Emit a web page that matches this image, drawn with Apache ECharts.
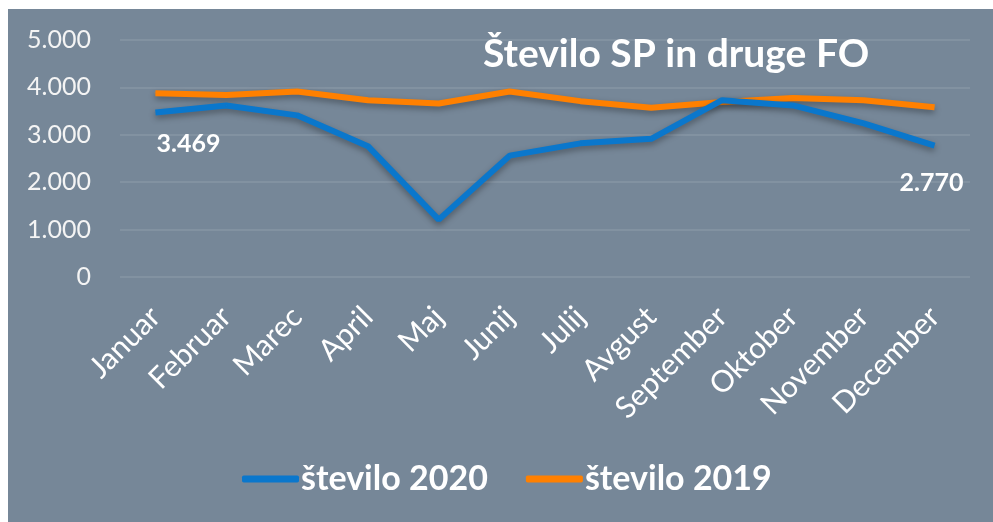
<!DOCTYPE html>
<html>
<head>
<meta charset="utf-8">
<script src="https://cdn.jsdelivr.net/npm/echarts@6/dist/echarts.min.js"></script>
<style>
  html, body { margin: 0; padding: 0; background: #ffffff; }
  #chart {
    position: absolute;
    left: 8px;
    top: 9px;
    width: 985px;
    height: 513px;
    background: #768798;
  }
</style>
</head>
<body>
<div id="chart"></div>
<script>
const months = ["Januar", "Februar", "Marec", "April", "Maj", "Junij", "Julij", "Avgust", "September", "Oktober", "November", "December"];
const stevilo2020 = [3469, 3620, 3410, 2760, 1210, 2560, 2820, 2915, 3730, 3620, 3240, 2770];
const stevilo2019 = [3875, 3840, 3915, 3730, 3660, 3915, 3710, 3570, 3690, 3775, 3730, 3580];
const yTicks = [0, 1000, 2000, 3000, 4000, 5000];

const fmt = (v) => String(v).replace(/\B(?=(\d{3})+(?!\d))/g, ".");

// only the first and last point of 2020 carry a label
const labelOffsets = { 0: [33, 31], 11: [-3, 37] };
const data2020 = stevilo2020.map((v, i) => {
  if (!labelOffsets[i]) return v;
  return {
    value: v,
    label: {
      show: true,
      position: "inside",
      offset: labelOffsets[i],
      formatter: (p) => fmt(p.value),
      color: "#ffffff",
      fontFamily: "Lato",
      fontWeight: "bold",
      fontSize: 25,
    },
  };
});

const lineShadow = {
  shadowColor: "rgba(0, 0, 0, 0.35)",
  shadowBlur: 6,
  shadowOffsetY: 3,
};

const myChart = echarts.init(document.getElementById("chart"));
myChart.setOption({
  animation: false,
  title: {
    text: "Število SP in druge FO",
    left: 470,
    top: 21,
    textStyle: {
      color: "#ffffff",
      fontFamily: "Lato",
      fontWeight: "bold",
      fontSize: 39,
    },
  },
  legend: {
    left: 229,
    bottom: 21,
    itemWidth: 57,
    itemHeight: 7,
    itemGap: 38,
    icon: "roundRect",
    textStyle: {
      color: "#ffffff",
      fontFamily: "Lato",
      fontWeight: "bold",
      fontSize: 34,
      padding: [0, 0, 0, -3],
    },
    data: ["število 2020", "število 2019"],
  },
  grid: {
    left: 112,
    right: 23,
    top: 31,
    bottom: 245,
  },
  xAxis: {
    type: "category",
    data: months,
    boundaryGap: true,
    axisLine: { show: false },
    axisTick: { show: false },
    axisLabel: {
      rotate: 45,
      margin: 35,
      color: "#ffffff",
      fontFamily: "Lato",
      fontSize: 30,
      interval: 0,
    },
  },
  yAxis: {
    type: "value",
    min: yTicks[0],
    max: yTicks[yTicks.length - 1],
    interval: yTicks[1] - yTicks[0],
    axisLine: { show: false },
    axisTick: { show: false },
    splitLine: {
      lineStyle: { color: "rgba(255, 255, 255, 0.13)", width: 1.5 },
    },
    axisLabel: {
      margin: 29,
      color: "#f4f4f4",
      fontFamily: "Lato",
      fontSize: 25,
      formatter: (v) => fmt(v),
    },
  },
  series: [
    {
      name: "število 2020",
      type: "line",
      data: data2020,
      showSymbol: true,
      symbolSize: 0.1,
      color: "#0a77cc",
      lineStyle: Object.assign({ width: 6, color: "#0a77cc" }, lineShadow),
      z: 3,
    },
    {
      name: "število 2019",
      type: "line",
      data: stevilo2019,
      showSymbol: true,
      symbolSize: 0.1,
      color: "#ff8000",
      lineStyle: Object.assign({ width: 6, color: "#ff8000" }, lineShadow),
      z: 2,
    },
  ],
});
</script>
</body>
</html>
